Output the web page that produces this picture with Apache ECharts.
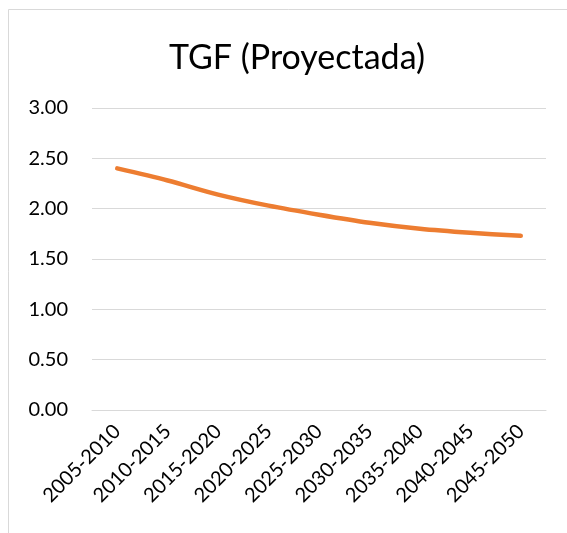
<!DOCTYPE html>
<html>
<head>
<meta charset="utf-8">
<script src="https://cdn.jsdelivr.net/npm/echarts@6/dist/echarts.min.js"></script>
<style>
html,body{margin:0;padding:0;background:#fff;}
#chart{width:567px;height:533px;}
</style>
</head>
<body>
<div id="chart"></div>
<script>
const categories = ['2005-2010','2010-2015','2015-2020','2020-2025','2025-2030','2030-2035','2035-2040','2040-2045','2045-2050'];
const tgfValues = [2.40, 2.28, 2.14, 2.03, 1.94, 1.86, 1.80, 1.76, 1.73];
const titleText = 'TGF (Proyectada)';

const chart = echarts.init(document.getElementById('chart'), null, {renderer:'canvas'});
chart.setOption({
  animation: false,
  backgroundColor: '#fff',
  graphic: [{
    type: 'rect',
    shape: {x: 8.5, y: 9.5, width: 700, height: 700},
    style: {fill: 'none', stroke: '#d9d9d9', lineWidth: 1},
    silent: true
  }],
  title: {
    text: titleText,
    left: 292, top: 36, textAlign: 'center',
    textStyle: {fontFamily: 'Lato', fontSize: 34, fontWeight: 'normal', color: '#000'}
  },
  grid: {left: 92, right: 21, top: 108, bottom: 123, containLabel: false},
  xAxis: {
    type: 'category',
    data: categories,
    boundaryGap: true,
    axisLine: {show: true, lineStyle: {color: '#d9d9d9', width: 1}},
    axisTick: {show: false},
    axisLabel: {rotate: 45, fontFamily: 'Lato', fontSize: 20, color: '#000', margin: 18, interval: 0}
  },
  yAxis: {
    type: 'value',
    min: 0, max: 3, interval: 0.5,
    axisLine: {show: false},
    axisTick: {show: false},
    splitLine: {lineStyle: {color: '#d9d9d9', width: 1}},
    axisLabel: {formatter: v => v.toFixed(2), fontFamily: 'Lato', fontSize: 20, color: '#000', margin: 24}
  },
  series: [{
    type: 'line',
    data: tgfValues,
    smooth: 0.3,
    symbol: 'none',
    lineStyle: {color: '#ED7D31', width: 4.5, cap: 'round', join: 'round'}
  }]
});
</script>
</body>
</html>
